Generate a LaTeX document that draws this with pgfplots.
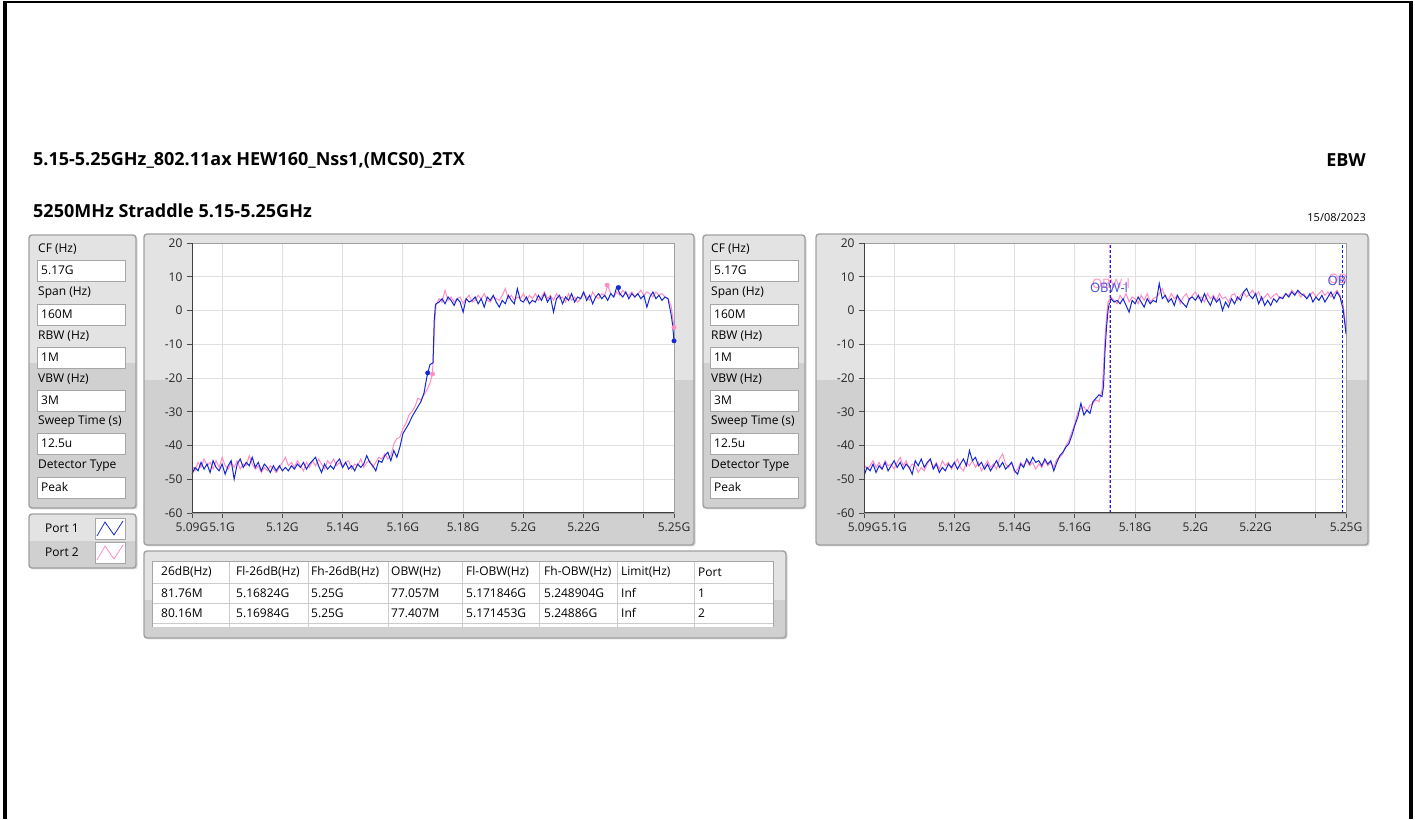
\documentclass[border=0pt]{standalone}
\usepackage{pgfplots}
\pgfplotsset{compat=1.18}
\usepackage{pgfplotstable}
\usepackage{fontspec}
\setmainfont{Open Sans}
\definecolor{tblue}{RGB}{20,40,210}
\definecolor{tpink}{RGB}{255,140,195}
\definecolor{plight}{RGB}{227,227,227}
\definecolor{pdark}{RGB}{208,208,208}
\definecolor{pborder}{RGB}{160,160,160}
\definecolor{gridc}{RGB}{224,224,224}
\newcommand\fs{\fontsize{12}{14}\selectfont}

\pgfplotstableread[row sep=\\]{f v\\
5090 -48.5\\ 5091 -46.5\\ 5092 -47.5\\ 5093 -45.0\\ 5094 -47.0\\ 5095 -45.5\\ 5096 -48.0\\ 5097 -44.5\\ 5098 -46.5\\ 5099 -47.5\\
5100 -45.5\\ 5101 -48.5\\ 5102 -46.0\\ 5103 -44.5\\ 5104 -50.0\\ 5105 -45.5\\ 5106 -44.0\\ 5107 -46.5\\ 5108 -45.0\\ 5109 -46.0\\
5110 -43.5\\ 5111 -46.5\\ 5112 -45.0\\ 5113 -47.5\\ 5114 -45.5\\ 5115 -46.5\\ 5116 -48.0\\ 5117 -46.0\\ 5118 -47.5\\ 5119 -46.0\\
5120 -47.5\\ 5121 -46.5\\ 5122 -47.5\\ 5123 -46.0\\ 5124 -47.0\\ 5125 -45.5\\ 5126 -46.5\\ 5127 -45.0\\ 5128 -47.0\\ 5129 -45.5\\
5130 -44.5\\ 5131 -43.5\\ 5132 -46.0\\ 5133 -48.0\\ 5134 -45.5\\ 5135 -47.0\\ 5136 -46.0\\ 5137 -47.0\\ 5138 -45.0\\ 5139 -44.0\\
5140 -46.5\\ 5141 -45.0\\ 5142 -47.0\\ 5143 -46.0\\ 5144 -47.5\\ 5145 -45.5\\ 5146 -46.5\\ 5147 -45.5\\ 5148 -43.0\\ 5149 -45.0\\
5150 -46.0\\ 5151 -47.5\\ 5152 -44.5\\ 5153 -45.0\\ 5154 -43.0\\ 5155 -42.0\\ 5156 -44.5\\ 5157 -41.5\\ 5158 -43.5\\ 5159 -40.5\\
5160 -36.5\\ 5161 -35.0\\ 5162 -33.5\\ 5163 -31.5\\ 5164 -30.0\\ 5165 -28.5\\ 5166 -27.0\\ 5167 -24.5\\ 5168 -19.5\\ 5169 -16.0\\
5170 -15.5\\ 5170.4 -3.0\\ 5170.8 1.5\\ 5171 2.0\\ 5172 2.5\\ 5173 3.5\\ 5174 2.0\\ 5175 4.0\\ 5176 3.0\\ 5177 1.5\\ 5178 3.5\\ 5179 2.5\\
5180 -0.5\\ 5181 3.5\\ 5182 2.5\\ 5183 3.0\\ 5184 4.0\\ 5185 2.0\\ 5186 3.5\\ 5187 1.0\\ 5188 4.0\\ 5189 3.0\\
5190 4.5\\ 5191 2.5\\ 5192 1.0\\ 5193 3.0\\ 5194 2.0\\ 5195 4.5\\ 5196 3.0\\ 5197 2.0\\ 5198 6.5\\ 5199 3.0\\
5200 2.5\\ 5201 4.0\\ 5202 2.0\\ 5203 3.0\\ 5204 2.5\\ 5205 4.5\\ 5206 3.0\\ 5207 5.0\\ 5208 2.5\\ 5209 4.0\\
5210 -0.5\\ 5211 3.5\\ 5212 4.5\\ 5213 2.0\\ 5214 4.0\\ 5215 3.0\\ 5216 5.0\\ 5217 2.5\\ 5218 4.0\\ 5219 3.5\\
5220 5.5\\ 5221 3.0\\ 5222 4.5\\ 5223 2.0\\ 5224 4.0\\ 5225 5.0\\ 5226 3.5\\ 5227 4.5\\ 5228 3.0\\ 5229 5.0\\
5230 4.0\\ 5231 7.0\\ 5232 5.0\\ 5233 4.0\\ 5234 5.5\\ 5235 3.5\\ 5236 5.0\\ 5237 4.0\\ 5238 5.0\\ 5239 3.5\\
5240 4.5\\ 5241 1.0\\ 5242 4.0\\ 5243 5.5\\ 5244 3.5\\ 5245 4.5\\ 5246 3.0\\ 5247 4.0\\ 5248 3.5\\ 5249 -1.0\\ 5249.5 -4.0\\ 5250 -9.0\\
}\LB

\pgfplotstableread[row sep=\\]{f v\\
5090 -46.0\\ 5091 -47.5\\ 5092 -45.0\\ 5093 -46.5\\ 5094 -44.0\\ 5095 -46.0\\ 5096 -45.0\\ 5097 -47.0\\ 5098 -44.5\\ 5099 -46.5\\
5100 -43.5\\ 5101 -46.0\\ 5102 -47.0\\ 5103 -45.0\\ 5104 -46.5\\ 5105 -44.5\\ 5106 -47.0\\ 5107 -45.5\\ 5108 -46.0\\ 5109 -43.0\\
5110 -45.5\\ 5111 -47.0\\ 5112 -46.0\\ 5113 -48.0\\ 5114 -46.5\\ 5115 -47.5\\ 5116 -46.0\\ 5117 -47.0\\ 5118 -48.0\\ 5119 -46.5\\
5120 -45.0\\ 5121 -43.5\\ 5122 -46.0\\ 5123 -45.0\\ 5124 -46.5\\ 5125 -44.5\\ 5126 -46.0\\ 5127 -47.5\\ 5128 -45.0\\ 5129 -46.5\\
5130 -44.5\\ 5131 -46.0\\ 5132 -44.0\\ 5133 -45.5\\ 5134 -47.0\\ 5135 -44.5\\ 5136 -45.5\\ 5137 -44.0\\ 5138 -46.0\\ 5139 -45.0\\
5140 -46.5\\ 5141 -45.0\\ 5142 -44.5\\ 5143 -47.0\\ 5144 -45.5\\ 5145 -46.0\\ 5146 -44.0\\ 5147 -46.5\\ 5148 -45.0\\ 5149 -44.5\\
5150 -46.5\\ 5151 -45.0\\ 5152 -43.5\\ 5153 -44.0\\ 5154 -42.5\\ 5155 -44.0\\ 5156 -43.0\\ 5157 -39.5\\ 5158 -38.0\\ 5159 -37.5\\
5160 -35.0\\ 5161 -33.5\\ 5162 -31.0\\ 5163 -30.0\\ 5164 -28.5\\ 5165 -26.0\\ 5166 -26.5\\ 5167 -25.0\\ 5168 -23.5\\ 5169 -21.5\\
5169.8 -18.8\\ 5170.2 -12.0\\ 5170.6 -3.0\\ 5171 1.5\\ 5172 3.5\\ 5173 2.5\\ 5174 6.0\\ 5175 3.0\\ 5176 4.0\\ 5177 2.5\\ 5178 3.5\\ 5179 4.0\\
5180 2.0\\ 5181 3.5\\ 5182 4.5\\ 5183 2.5\\ 5184 3.0\\ 5185 4.5\\ 5186 3.5\\ 5187 5.0\\ 5188 3.0\\ 5189 2.5\\
5190 4.0\\ 5191 3.5\\ 5192 3.0\\ 5193 4.5\\ 5194 6.5\\ 5195 3.5\\ 5196 4.5\\ 5197 3.0\\ 5198 4.0\\ 5199 3.5\\
5200 5.0\\ 5201 3.0\\ 5202 4.5\\ 5203 3.5\\ 5204 5.0\\ 5205 3.0\\ 5206 4.0\\ 5207 5.5\\ 5208 3.5\\ 5209 4.5\\
5210 3.0\\ 5211 5.0\\ 5212 3.5\\ 5213 4.0\\ 5214 2.5\\ 5215 5.0\\ 5216 3.0\\ 5217 4.0\\ 5218 2.5\\ 5219 3.5\\
5220 5.0\\ 5221 4.0\\ 5222 3.0\\ 5223 5.5\\ 5224 4.0\\ 5225 3.5\\ 5226 5.0\\ 5227 4.5\\ 5228 7.5\\ 5229 5.0\\
5230 4.0\\ 5231 5.5\\ 5232 4.5\\ 5233 6.0\\ 5234 5.0\\ 5235 4.5\\ 5236 5.5\\ 5237 4.0\\ 5238 5.0\\ 5239 6.0\\
5240 4.5\\ 5241 5.5\\ 5242 5.0\\ 5243 4.0\\ 5244 5.5\\ 5245 4.5\\ 5246 5.0\\ 5247 4.0\\ 5248 3.5\\ 5249 1.5\\ 5250 -5.0\\
}\LP

\pgfplotstableread[row sep=\\]{f v\\
5090 -49.0\\ 5091 -46.5\\ 5092 -47.5\\ 5093 -45.5\\ 5094 -48.0\\ 5095 -46.0\\ 5096 -47.0\\ 5097 -45.0\\ 5098 -47.5\\ 5099 -46.0\\
5100 -44.5\\ 5101 -46.5\\ 5102 -45.0\\ 5103 -47.0\\ 5104 -45.5\\ 5105 -46.5\\ 5106 -48.5\\ 5107 -44.5\\ 5108 -46.0\\ 5109 -44.0\\
5110 -46.5\\ 5111 -45.0\\ 5112 -44.0\\ 5113 -47.0\\ 5114 -45.5\\ 5115 -48.0\\ 5116 -46.5\\ 5117 -47.5\\ 5118 -45.5\\ 5119 -46.5\\
5120 -45.0\\ 5121 -47.0\\ 5122 -45.5\\ 5123 -44.0\\ 5124 -46.0\\ 5125 -41.5\\ 5126 -44.5\\ 5127 -43.5\\ 5128 -46.0\\ 5129 -45.0\\
5130 -47.0\\ 5131 -45.5\\ 5132 -47.5\\ 5133 -46.0\\ 5134 -44.5\\ 5135 -46.5\\ 5136 -45.0\\ 5137 -47.0\\ 5138 -46.0\\ 5139 -45.0\\
5140 -47.5\\ 5141 -48.5\\ 5142 -45.5\\ 5143 -46.5\\ 5144 -44.0\\ 5145 -45.5\\ 5146 -43.5\\ 5147 -45.0\\ 5148 -44.5\\ 5149 -46.0\\
5150 -44.0\\ 5151 -45.5\\ 5152 -44.5\\ 5153 -47.5\\ 5154 -45.0\\ 5155 -43.0\\ 5156 -42.0\\ 5157 -40.5\\ 5158 -39.5\\ 5159 -37.0\\
5160 -34.0\\ 5161 -31.5\\ 5162 -27.5\\ 5163 -31.0\\ 5164 -29.5\\ 5165 -30.5\\ 5166 -27.0\\ 5167 -26.0\\ 5168 -25.0\\ 5169 -25.5\\
5169.5 -22.5\\ 5170 -12.0\\ 5170.5 -5.0\\ 5171 0.0\\ 5171.5 2.5\\ 5172 3.5\\ 5173 2.5\\ 5174 3.0\\ 5175 2.0\\ 5176 3.5\\ 5177 1.5\\ 5178 -0.5\\ 5179 3.0\\
5180 2.0\\ 5181 4.0\\ 5182 2.5\\ 5183 1.0\\ 5184 3.5\\ 5185 2.0\\ 5186 3.0\\ 5187 2.5\\ 5188 8.0\\ 5189 3.5\\
5190 4.5\\ 5191 2.5\\ 5192 3.5\\ 5193 1.5\\ 5194 4.5\\ 5195 3.0\\ 5196 2.0\\ 5197 1.0\\ 5198 3.5\\ 5199 4.0\\
5200 3.0\\ 5201 4.5\\ 5202 2.5\\ 5203 5.0\\ 5204 3.0\\ 5205 1.5\\ 5206 4.0\\ 5207 2.5\\ 5208 3.5\\ 5209 0.0\\
5210 2.5\\ 5211 1.0\\ 5212 3.5\\ 5213 2.0\\ 5214 4.0\\ 5215 3.0\\ 5216 5.5\\ 5217 6.5\\ 5218 4.5\\ 5219 3.5\\
5220 5.0\\ 5221 2.0\\ 5222 4.0\\ 5223 1.5\\ 5224 3.0\\ 5225 1.5\\ 5226 3.5\\ 5227 2.5\\ 5228 4.0\\ 5229 3.5\\
5230 5.0\\ 5231 4.0\\ 5232 5.5\\ 5233 4.5\\ 5234 6.0\\ 5235 5.0\\ 5236 4.5\\ 5237 3.5\\ 5238 5.0\\ 5239 2.5\\
5240 4.0\\ 5241 3.0\\ 5242 4.5\\ 5243 2.5\\ 5244 4.0\\ 5245 5.5\\ 5246 3.5\\ 5247 5.5\\ 5248 4.0\\ 5249 0.5\\ 5249.5 -3.0\\ 5250 -7.0\\
}\RB

\pgfplotstableread[row sep=\\]{f v\\
5090 -45.5\\ 5091 -47.0\\ 5092 -46.0\\ 5093 -44.5\\ 5094 -46.5\\ 5095 -45.0\\ 5096 -47.0\\ 5097 -44.5\\ 5098 -46.0\\ 5099 -45.5\\
5100 -47.0\\ 5101 -45.0\\ 5102 -43.5\\ 5103 -46.0\\ 5104 -44.5\\ 5105 -47.0\\ 5106 -45.5\\ 5107 -46.0\\ 5108 -48.0\\ 5109 -46.5\\
5110 -47.5\\ 5111 -45.5\\ 5112 -44.0\\ 5113 -46.5\\ 5114 -45.0\\ 5115 -47.0\\ 5116 -44.5\\ 5117 -46.0\\ 5118 -45.0\\ 5119 -47.0\\
5120 -45.5\\ 5121 -44.0\\ 5122 -46.5\\ 5123 -47.5\\ 5124 -45.0\\ 5125 -46.0\\ 5126 -44.5\\ 5127 -46.5\\ 5128 -45.0\\ 5129 -47.5\\
5130 -46.0\\ 5131 -44.5\\ 5132 -46.5\\ 5133 -45.5\\ 5134 -47.0\\ 5135 -44.0\\ 5136 -42.5\\ 5137 -45.5\\ 5138 -46.5\\ 5139 -45.0\\
5140 -48.0\\ 5141 -47.0\\ 5142 -45.0\\ 5143 -46.0\\ 5144 -44.5\\ 5145 -46.0\\ 5146 -45.0\\ 5147 -47.0\\ 5148 -45.5\\ 5149 -46.5\\
5150 -44.5\\ 5151 -46.0\\ 5152 -45.0\\ 5153 -46.5\\ 5154 -44.0\\ 5155 -43.5\\ 5156 -42.5\\ 5157 -40.0\\ 5158 -38.5\\ 5159 -36.0\\
5160 -33.5\\ 5161 -30.0\\ 5162 -29.0\\ 5163 -28.5\\ 5164 -30.0\\ 5165 -28.0\\ 5166 -27.5\\ 5167 -26.5\\ 5168 -27.0\\ 5169 -23.5\\
5169.5 -17.0\\ 5170 -8.0\\ 5170.5 -2.0\\ 5171 2.5\\ 5172 4.0\\ 5173 3.0\\ 5174 2.0\\ 5175 4.5\\ 5176 3.0\\ 5177 5.0\\ 5178 2.5\\ 5179 4.0\\
5180 3.5\\ 5181 2.0\\ 5182 4.5\\ 5183 3.0\\ 5184 5.0\\ 5185 2.5\\ 5186 3.5\\ 5187 4.0\\ 5188 5.0\\ 5189 6.5\\
5190 4.0\\ 5191 3.0\\ 5192 5.0\\ 5193 3.5\\ 5194 4.5\\ 5195 2.0\\ 5196 4.0\\ 5197 5.0\\ 5198 3.0\\ 5199 4.5\\
5200 5.5\\ 5201 3.5\\ 5202 4.0\\ 5203 2.5\\ 5204 5.0\\ 5205 3.5\\ 5206 4.5\\ 5207 3.0\\ 5208 5.0\\ 5209 3.5\\
5210 4.0\\ 5211 2.5\\ 5212 4.5\\ 5213 5.0\\ 5214 3.0\\ 5215 4.5\\ 5216 5.5\\ 5217 4.0\\ 5218 5.0\\ 5219 6.0\\
5220 4.5\\ 5221 5.5\\ 5222 3.0\\ 5223 4.0\\ 5224 5.0\\ 5225 3.5\\ 5226 4.5\\ 5227 5.0\\ 5228 3.5\\ 5229 4.0\\
5230 5.0\\ 5231 4.5\\ 5232 6.0\\ 5233 5.0\\ 5234 5.5\\ 5235 4.0\\ 5236 5.0\\ 5237 3.5\\ 5238 4.5\\ 5239 5.5\\
5240 4.0\\ 5241 5.0\\ 5242 6.0\\ 5243 4.5\\ 5244 5.5\\ 5245 4.0\\ 5246 5.0\\ 5247 6.0\\ 5248 4.5\\ 5249 2.0\\ 5250 -5.5\\
}\RP

\pgfplotsset{spec/.style={
  scale only axis, width=482pt, height=270pt, anchor=south west,
  xmin=5090, xmax=5250, ymin=-60, ymax=20,
  xtick={5090,5100,5120,5140,5160,5180,5200,5220,5240,5250},
  xticklabels={5.09G,5.1G,5.12G,5.14G,5.16G,5.18G,5.2G,5.22G,,5.25G},
  ytick={-60,-50,-40,-30,-20,-10,0,10,20},
  yticklabels={-60,-50,-40,-30,-20,-10,0,10,20},
  tick label style={font=\fs, text=black!85},
  grid=major, major grid style={gridc, line width=0.9pt},
  tick align=outside, xtick pos=bottom, ytick pos=left,
  major tick length=5pt, tick style={black!70, line width=0.8pt},
  axis line style={pborder, line width=0.8pt},
  axis background/.style={fill=white},
  xticklabel style={yshift=-1pt},
  yticklabel style={xshift=-1pt},
}}

\newcommand\panel[5]{%
  \fill[rounded corners=3pt, black!15] (#1+1.5,819-#2-1.5) rectangle (#3+1.5,819-#4-1.5);
  \begin{scope}
    \clip[rounded corners=3pt] (#1,819-#2) rectangle (#3,819-#4);
    \fill[plight] (#1,819-#2) rectangle (#3,819-#4);
    \fill[pdark] (#1,819-#5) rectangle (#3,819-#4);
  \end{scope}
  \draw[rounded corners=3pt, pborder, line width=1.4pt] (#1,819-#2) rectangle (#3,819-#4);
}
\newcommand\param[4]{%
  \node[anchor=west, inner sep=0pt, font=\fs] at (#1, 819-#2) {#3};
  \draw[fill=white, draw=black!35, line width=0.8pt] (#1-1, 819-#2-11) rectangle (#1+87, 819-#2-32);
  \node[anchor=west, inner sep=0pt, font=\fs] at (#1+3, 819-#2-21.5) {#4};
}
\newcommand\params[1]{%
  \param{#1}{249}{CF (Hz)}{5.17G}
  \param{#1}{293}{Span (Hz)}{160M}
  \param{#1}{336}{RBW (Hz)}{1M}
  \param{#1}{379}{VBW (Hz)}{3M}
  \param{#1}{422}{Sweep Time (s)}{12.5u}
  \param{#1}{466}{Detector Type}{Peak}
}
\newcommand\trow[9]{%
  \foreach \xx/\tt in {161/#2,236/#3,311/#4,391/#5,466/#6,544/#7,621/#8,698/#9}
    \node[anchor=west, inner sep=0pt, font=\fs] at (\xx, 819-#1) {\tt};
}

\begin{document}
\begin{tikzpicture}[x=1pt, y=1pt]
\path[use as bounding box] (0,0) rectangle (1415,819);
% page border
\fill[black] (3,0) rectangle (7,818);
\fill[black] (3,816) rectangle (1413,818);
\fill[black] (1409,0) rectangle (1413,818);

% titles
\node[anchor=west, inner sep=0pt, font=\bfseries\fontsize{18}{21}\selectfont] at (33, 819-160) {5.15-5.25GHz\_802.11ax HEW160\_Nss1,(MCS0)\_2TX};
\node[anchor=east, inner sep=0pt, font=\bfseries\fontsize{18}{21}\selectfont] at (1366, 819-160) {EBW};
\node[anchor=west, inner sep=0pt, font=\bfseries\fontsize{18}{21}\selectfont] at (33, 819-211) {5250MHz Straddle 5.15-5.25GHz};
\node[anchor=east, inner sep=0pt, font=\fontsize{11}{13}\selectfont] at (1366, 819-218) {15/08/2023};

% panels
\panel{29}{235}{136}{508}{363}
\params{38}
\panel{29}{514}{136}{568}{541}
\node[anchor=west, inner sep=0pt, font=\fs] at (45, 819-528) {Port 1};
\node[anchor=west, inner sep=0pt, font=\fs] at (45, 819-552) {Port 2};
\draw[fill=white, draw=black!35, line width=0.8pt] (95,819-518) rectangle (125,819-539);
\draw[tblue, line width=0.8pt] (97,819-536) -- (105,819-522) -- (114,819-535) -- (123,819-521);
\draw[fill=white, draw=black!35, line width=0.8pt] (95,819-542) rectangle (125,819-563);
\draw[tpink, line width=0.8pt] (97,819-560) -- (105,819-546) -- (114,819-559) -- (123,819-545);

\panel{703}{235}{805}{508}{363}
\params{711}

\panel{144}{234}{694}{545}{380}
\panel{816}{234}{1368}{545}{380}

% table
\panel{144}{551}{786}{638}{600}
\fill[white] (152,819-561) rectangle (773,819-627);
\foreach \yy in {583,603,623} \draw[black!20, line width=0.8pt] (152,819-\yy) -- (773,819-\yy);
\foreach \xx in {229,308,388,462,539,617,694} \draw[black!20, line width=0.8pt] (\xx,819-561) -- (\xx,819-627);
\draw[black!35, line width=0.8pt] (152,819-627) -- (152,819-561) -- (773,819-561) -- (773,819-627);
\trow{572}{26dB(Hz)}{Fl-26dB(Hz)}{Fh-26dB(Hz)}{OBW(Hz)}{Fl-OBW(Hz)}{Fh-OBW(Hz)}{Limit(Hz)}{Port}
\trow{593}{81.76M}{5.16824G}{5.25G}{77.057M}{5.171846G}{5.248904G}{Inf}{1}
\trow{613}{80.16M}{5.16984G}{5.25G}{77.407M}{5.171453G}{5.24886G}{Inf}{2}

% left chart
\begin{axis}[spec, at={(192pt,306pt)}, clip=false]
\addplot[tpink, line width=1pt] table[x=f, y=v] {\LP};
\addplot[tblue, line width=1pt] table[x=f, y=v] {\LB};
\addplot[only marks, mark=*, mark size=2.2pt, tpink] coordinates {(5169.84,-18.8) (5227.8,7.5) (5250,-5)};
\addplot[only marks, mark=*, mark size=2.2pt, tblue] coordinates {(5168.24,-18.5) (5231.6,6.8) (5250,-9)};
\end{axis}
\draw[black!75, line width=1pt] (192,576) -- (192,306) -- (674,306);

% right chart
\begin{axis}[spec, at={(864pt,306pt)}]
\addplot[tpink, line width=1pt] table[x=f, y=v] {\RP};
\addplot[tblue, line width=1pt] table[x=f, y=v] {\RB};
\addplot[tpink, line width=1pt, dash pattern=on 3pt off 2pt] coordinates {(5171.453,-60) (5171.453,20)};
\addplot[tpink, line width=1pt, dash pattern=on 3pt off 2pt] coordinates {(5248.86,-60) (5248.86,20)};
\addplot[tblue, line width=1pt, dash pattern=on 3pt off 2pt] coordinates {(5171.846,-60) (5171.846,20)};
\addplot[tblue, line width=1pt, dash pattern=on 3pt off 2pt] coordinates {(5248.904,-60) (5248.904,20)};
\end{axis}
\draw[black!75, line width=1pt] (864,576) -- (864,306) -- (1346,306);
\begin{scope}
\clip (864,306) rectangle (1346,576);
\node[font=\fontsize{13}{15}\selectfont, text=tpink] at (1111, 819-284) {OBW-l};
\node[font=\fontsize{13}{15}\selectfont, text=tblue!80] at (1109, 819-288) {OBW-l};
\node[font=\fontsize{13}{15}\selectfont, text=tpink, anchor=west] at (1325, 819-279) {OBW-h};
\node[font=\fontsize{13}{15}\selectfont, text=tblue!80, anchor=west] at (1324, 819-281) {OBW-h};
\end{scope}
\end{tikzpicture}
\end{document}
